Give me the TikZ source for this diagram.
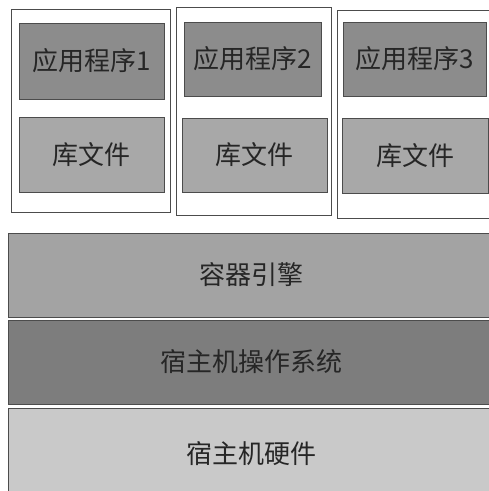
\documentclass[tikz,border=0pt]{standalone}
\usepackage{fontspec}
\setmainfont{Noto Sans CJK SC}
\definecolor{appgray}{gray}{0.55}
\definecolor{libgray}{gray}{0.66}
\definecolor{enginegray}{gray}{0.64}
\definecolor{osgray}{gray}{0.49}
\definecolor{hwgray}{gray}{0.79}
\definecolor{linegray}{gray}{0.3}
\begin{document}
\begin{tikzpicture}[
    x=1pt, y=-1pt,
    container/.style={rectangle, draw=linegray, line width=0.9pt, fill=white, inner sep=0pt},
    box/.style={rectangle, draw=linegray, line width=0.9pt, inner sep=0pt, text=black!85, font=\fontsize{26}{30}\selectfont},
    layer/.style={box, minimum width=487pt}
]
\clip (0,0) rectangle (489,491);
\fill[white] (0,0) rectangle (489,491);

% Containers
\node[container, minimum width=159pt, minimum height=203pt] (cont1) at (90.5, 110.5) {};
\node[container, minimum width=155pt, minimum height=208pt] (cont2) at (253.5, 111) {};
\node[container, minimum width=158pt, minimum height=208pt] (cont3) at (416, 114) {};

% Applications
\node[box, fill=appgray, minimum width=145pt, minimum height=76pt] (app1) at (91.5, 61) {应用程序1};
\node[box, fill=appgray, minimum width=137pt, minimum height=74pt] (app2) at (252.5, 59) {应用程序2};
\node[box, fill=appgray, minimum width=143pt, minimum height=74pt] (app3) at (414.5, 59) {应用程序3};

% Libraries
\node[box, fill=libgray, minimum width=145pt, minimum height=75pt] (lib1) at (91.5, 154.5) {库文件};
\node[box, fill=libgray, minimum width=145pt, minimum height=74pt] (lib2) at (254.5, 155) {库文件};
\node[box, fill=libgray, minimum width=146pt, minimum height=75pt] (lib3) at (415, 155.5) {库文件};

% Host layers
\node[layer, fill=enginegray, minimum height=84pt] (engine) at (251.5, 275) {容器引擎};
\node[layer, fill=osgray, minimum height=84pt] (hostos) at (251.5, 362) {宿主机操作系统};
\node[layer, fill=hwgray, minimum height=92pt] (hardware) at (251.5, 454) {宿主机硬件};

\end{tikzpicture}
\end{document}
